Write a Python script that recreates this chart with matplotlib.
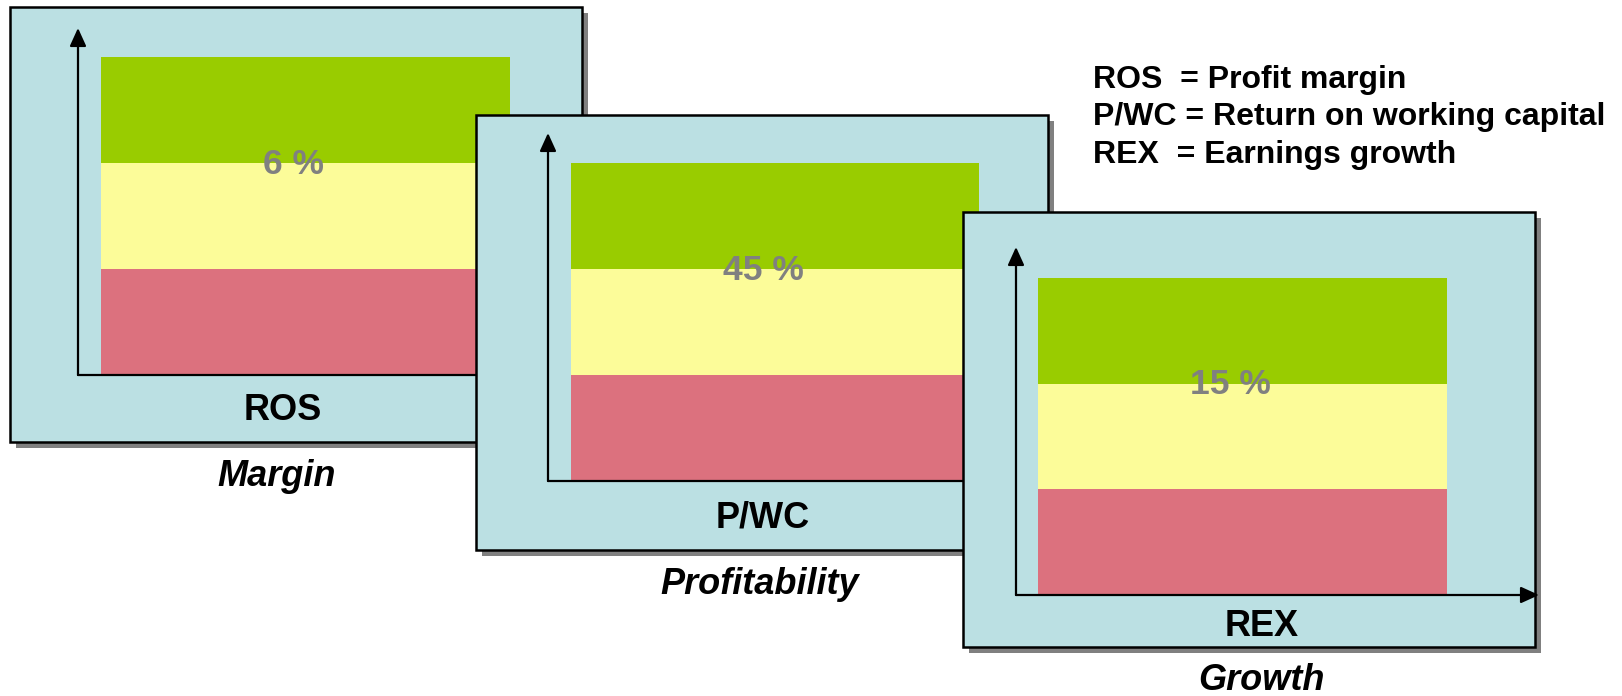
import matplotlib.pyplot as plt
from matplotlib.patches import Rectangle

# Values
metrics = ["ROS", "P/WC", "REX"]
themes = ["Margin", "Profitability", "Growth"]
targets = [6, 45, 15]
zone_sizes = [1, 1, 1]  # red, yellow, green (bottom to top)
zone_colors = ["#DC717E", "#FCFC99", "#99CC00"]
legend_terms = ["ROS ", "P/WC", "REX "]
legend_meanings = ["Profit margin", "Return on working capital", "Earnings growth"]

# Layout in pixels (figure is 1622x696, y grows downward)
W, H = 1622, 696
BOX_W, BOX_H = 572, 435
SHADOW = 6
box_x = [10, 476, 963]
box_y = [7, 115, 212]
band_left = [101, 571, 1038]
band_right = [510, 979, 1447]
band_top = [57, 163, 278]
band_bottom = [375, 481, 595]
yaxis_x = [78, 548, 1016]
yaxis_tip = [28, 133, 247]
xaxis_len = 576
metric_xy = [(283, 411), (763, 518), (1262, 627)]
theme_xy = [(277, 476), (760, 584), (1261, 680)]

BLUE = "#BBE0E3"
GRAY = "#808080"
FONT = "Liberation Sans"

fig = plt.figure(figsize=(W / 100, H / 100), dpi=100)
ax = fig.add_axes([0, 0, 1, 1])
ax.set_xlim(0, W)
ax.set_ylim(H, 0)
ax.axis("off")

arrow = dict(arrowstyle="-|>,head_length=1.1,head_width=0.5", lw=1.6,
             color="black", shrinkA=0, shrinkB=0, mutation_scale=10)

for i, name in enumerate(metrics):
    z = 10 * (i + 1)
    x0, y0 = box_x[i], box_y[i]

    # shadow + panel box
    ax.add_patch(Rectangle((x0 + SHADOW, y0 + SHADOW), BOX_W, BOX_H,
                           facecolor=GRAY, edgecolor="none", zorder=z))
    ax.add_patch(Rectangle((x0, y0), BOX_W, BOX_H, facecolor=BLUE,
                           edgecolor="black", lw=1.8, zorder=z + 1))

    # colour zones
    band_h = band_bottom[i] - band_top[i]
    scale = band_h / sum(zone_sizes)
    cx = (band_left[i] + band_right[i]) / 2
    bw = band_right[i] - band_left[i]
    cum = 0
    for size, col in zip(zone_sizes, zone_colors):
        ax.bar(cx, -size * scale, bottom=band_bottom[i] - cum * scale,
               width=bw, color=col, linewidth=0, zorder=z + 2)
        cum += size

    # axes arrows
    ax.annotate("", xy=(yaxis_x[i], yaxis_tip[i]),
                xytext=(yaxis_x[i], band_bottom[i]), arrowprops=arrow, zorder=z + 3)
    ax.annotate("", xy=(x0 + xaxis_len, band_bottom[i]),
                xytext=(yaxis_x[i], band_bottom[i]), arrowprops=arrow, zorder=z + 3)

    # target value at the green/yellow boundary
    boundary = band_bottom[i] - sum(zone_sizes[:2]) * scale
    ax.text(cx - 12, boundary + 1, f"{targets[i]} %", color=GRAY, fontsize=25.5,
            fontweight="bold", family=FONT, ha="center", va="center", zorder=z + 4)

    ax.text(*metric_xy[i], name, fontsize=26, fontweight="bold", family=FONT,
            ha="center", va="center", zorder=z + 4)
    ax.text(*theme_xy[i], themes[i], fontsize=26, fontweight="bold", style="italic",
            family=FONT, ha="center", va="center", zorder=z + 4)

# legend text
for k, (term, meaning) in enumerate(zip(legend_terms, legend_meanings)):
    ax.text(1093, 80 + 37.5 * k, f"{term} = {meaning}", fontsize=23, fontweight="bold",
            family=FONT, ha="left", va="center", zorder=50)

fig.savefig("out.png", dpi=100)
